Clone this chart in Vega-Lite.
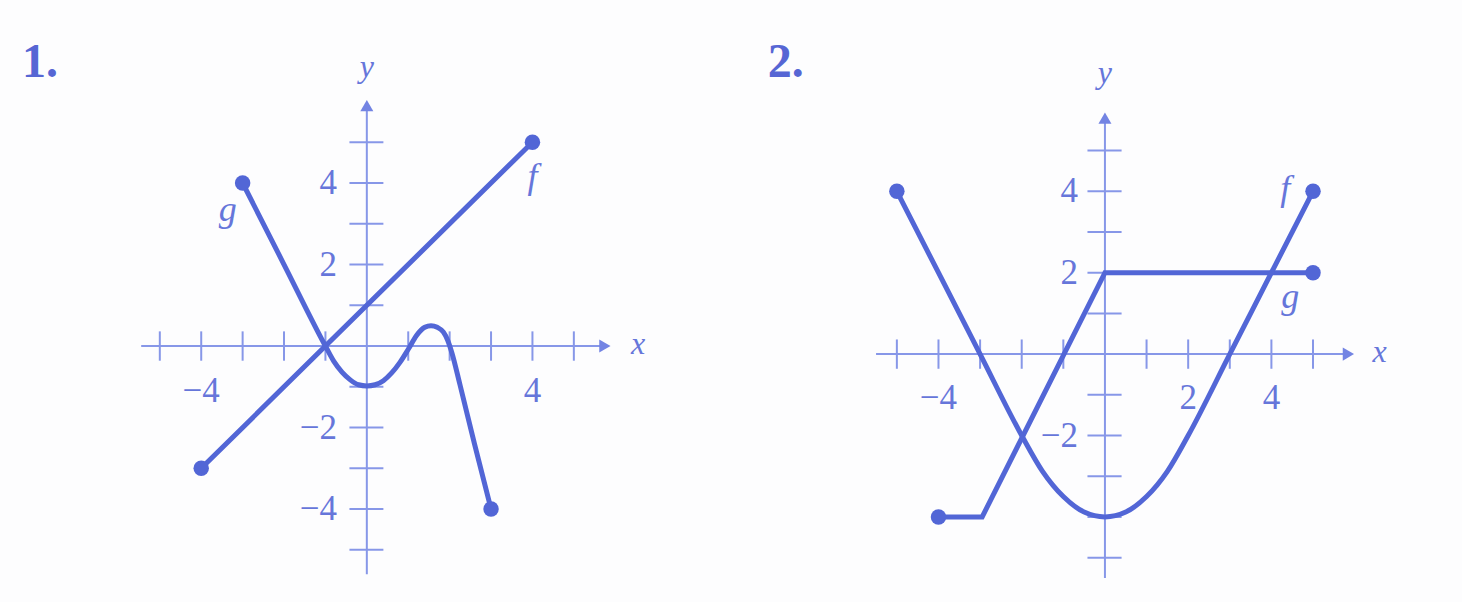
{
  "$schema": "https://vega.github.io/schema/vega-lite/v6.json",
  "background": "#fdfdfe",
  "padding": 0,
  "spacing": 0,
  "config": {"view": {"stroke": null}, "concat": {"spacing": 0}},
  "datasets": {
    "curves": [
      {"panel": 1, "fn": "f", "x": -4, "y": -3},
      {"panel": 1, "fn": "f", "x": 4, "y": 5},
      {"panel": 1, "fn": "g", "x": -3, "y": 4},
      {"panel": 1, "fn": "g", "x": -2, "y": 2},
      {"panel": 1, "fn": "g", "x": -1, "y": 0},
      {"panel": 1, "fn": "g", "x": -0.8, "y": -0.37},
      {"panel": 1, "fn": "g", "x": -0.6, "y": -0.64},
      {"panel": 1, "fn": "g", "x": -0.4, "y": -0.83},
      {"panel": 1, "fn": "g", "x": -0.2, "y": -0.95},
      {"panel": 1, "fn": "g", "x": 0, "y": -0.98},
      {"panel": 1, "fn": "g", "x": 0.2, "y": -0.95},
      {"panel": 1, "fn": "g", "x": 0.4, "y": -0.85},
      {"panel": 1, "fn": "g", "x": 0.6, "y": -0.66},
      {"panel": 1, "fn": "g", "x": 0.8, "y": -0.4},
      {"panel": 1, "fn": "g", "x": 1, "y": -0.08},
      {"panel": 1, "fn": "g", "x": 1.2, "y": 0.26},
      {"panel": 1, "fn": "g", "x": 1.4, "y": 0.46},
      {"panel": 1, "fn": "g", "x": 1.55, "y": 0.5},
      {"panel": 1, "fn": "g", "x": 1.7, "y": 0.46},
      {"panel": 1, "fn": "g", "x": 1.85, "y": 0.34},
      {"panel": 1, "fn": "g", "x": 1.95, "y": 0.15},
      {"panel": 1, "fn": "g", "x": 2.05, "y": -0.15},
      {"panel": 1, "fn": "g", "x": 2.25, "y": -0.95},
      {"panel": 1, "fn": "g", "x": 2.6, "y": -2.4},
      {"panel": 1, "fn": "g", "x": 3, "y": -4},
      {"panel": 2, "fn": "f", "x": -5, "y": 4},
      {"panel": 2, "fn": "f", "x": -4, "y": 2},
      {"panel": 2, "fn": "f", "x": -3, "y": 0},
      {"panel": 2, "fn": "f", "x": -2, "y": -2},
      {"panel": 2, "fn": "f", "x": -1.5, "y": -2.88},
      {"panel": 2, "fn": "f", "x": -1, "y": -3.5},
      {"panel": 2, "fn": "f", "x": -0.5, "y": -3.88},
      {"panel": 2, "fn": "f", "x": 0, "y": -4},
      {"panel": 2, "fn": "f", "x": 0.5, "y": -3.88},
      {"panel": 2, "fn": "f", "x": 1, "y": -3.5},
      {"panel": 2, "fn": "f", "x": 1.5, "y": -2.88},
      {"panel": 2, "fn": "f", "x": 2, "y": -2},
      {"panel": 2, "fn": "f", "x": 3, "y": 0},
      {"panel": 2, "fn": "f", "x": 4, "y": 2},
      {"panel": 2, "fn": "f", "x": 5, "y": 4},
      {"panel": 2, "fn": "g", "x": -4, "y": -4},
      {"panel": 2, "fn": "g", "x": -2.95, "y": -4},
      {"panel": 2, "fn": "g", "x": 0, "y": 2},
      {"panel": 2, "fn": "g", "x": 5, "y": 2}
    ],
    "dots": [
      {"panel": 1, "x": -4, "y": -3},
      {"panel": 1, "x": 4, "y": 5},
      {"panel": 1, "x": -3, "y": 4},
      {"panel": 1, "x": 3, "y": -4},
      {"panel": 2, "x": -5, "y": 4},
      {"panel": 2, "x": 5, "y": 4},
      {"panel": 2, "x": -4, "y": -4},
      {"panel": 2, "x": 5, "y": 2}
    ],
    "ticks": [
      {"v": -5}, {"v": -4}, {"v": -3}, {"v": -2}, {"v": -1},
      {"v": 1}, {"v": 2}, {"v": 3}, {"v": 4}, {"v": 5}
    ],
    "xlabels": [
      {"panel": 1, "v": -4, "label": "−4"},
      {"panel": 1, "v": 4, "label": "4"},
      {"panel": 2, "v": -4, "label": "−4"},
      {"panel": 2, "v": 2, "label": "2"},
      {"panel": 2, "v": 4, "label": "4"}
    ],
    "ylabels": [
      {"panel": 1, "v": 4, "label": "4"},
      {"panel": 1, "v": 2, "label": "2"},
      {"panel": 1, "v": -2, "label": "−2"},
      {"panel": 1, "v": -4, "label": "−4"},
      {"panel": 2, "v": 4, "label": "4"},
      {"panel": 2, "v": 2, "label": "2"},
      {"panel": 2, "v": -2, "label": "−2"}
    ],
    "fnlabels": [
      {"panel": 1, "name": "f", "x": 4.0, "y": 4.15},
      {"panel": 1, "name": "g", "x": -3.36, "y": 3.34},
      {"panel": 2, "name": "f", "x": 4.33, "y": 4.05},
      {"panel": 2, "name": "g", "x": 4.45, "y": 1.4}
    ]
  },
  "hconcat": [
    {
      "width": 720,
      "height": 602,
      "layer": [
        {
          "data": {"values": [{}]},
          "mark": {"type": "rule", "color": "#8797e8", "strokeWidth": 2},
          "encoding": {
            "x": {"datum": -5.45, "type": "quantitative", "scale": {"domain": [-8.86, 8.53], "nice": false, "zero": false}, "axis": null},
            "x2": {"datum": 5.7},
            "y": {"datum": 0, "type": "quantitative", "scale": {"domain": [-6.28, 8.49], "nice": false, "zero": false}, "axis": null}
          }
        },
        {
          "data": {"values": [{}]},
          "mark": {"type": "rule", "color": "#8797e8", "strokeWidth": 2},
          "encoding": {
            "x": {"datum": 0, "type": "quantitative"},
            "y": {"datum": -5.6, "type": "quantitative"},
            "y2": {"datum": 5.8}
          }
        },
        {
          "data": {"values": [{}]},
          "mark": {"type": "point", "shape": "triangle-right", "filled": true, "opacity": 1, "color": "#7384e3", "size": 170},
          "encoding": {"x": {"datum": 5.75, "type": "quantitative"}, "y": {"datum": 0, "type": "quantitative"}}
        },
        {
          "data": {"values": [{}]},
          "mark": {"type": "point", "shape": "triangle-up", "filled": true, "opacity": 1, "color": "#7384e3", "size": 170},
          "encoding": {"x": {"datum": 0, "type": "quantitative"}, "y": {"datum": 5.9, "type": "quantitative"}}
        },
        {
          "data": {"name": "ticks"},
          "mark": {"type": "rule", "color": "#8797e8", "strokeWidth": 2},
          "encoding": {
            "x": {"field": "v", "type": "quantitative"},
            "y": {"datum": -0.36, "type": "quantitative"},
            "y2": {"datum": 0.36}
          }
        },
        {
          "data": {"name": "ticks"},
          "mark": {"type": "rule", "color": "#8797e8", "strokeWidth": 2},
          "encoding": {
            "y": {"field": "v", "type": "quantitative"},
            "x": {"datum": -0.42, "type": "quantitative"},
            "x2": {"datum": 0.4}
          }
        },
        {
          "data": {"name": "xlabels"},
          "transform": [{"filter": "datum.panel == 1"}],
          "mark": {"type": "text", "font": "Liberation Serif", "fontSize": 35, "color": "#6676da", "baseline": "middle", "align": "center"},
          "encoding": {
            "x": {"field": "v", "type": "quantitative"},
            "y": {"datum": -1.1, "type": "quantitative"},
            "text": {"field": "label"}
          }
        },
        {
          "data": {"name": "ylabels"},
          "transform": [{"filter": "datum.panel == 1"}],
          "mark": {"type": "text", "font": "Liberation Serif", "fontSize": 35, "color": "#6676da", "baseline": "middle", "align": "right"},
          "encoding": {
            "y": {"field": "v", "type": "quantitative"},
            "x": {"datum": -0.72, "type": "quantitative"},
            "text": {"field": "label"}
          }
        },
        {
          "data": {"name": "curves"},
          "transform": [{"filter": "datum.panel == 1 && datum.fn == 'f'"}],
          "mark": {"type": "line", "color": "#5266d6", "strokeWidth": 5, "strokeCap": "round"},
          "encoding": {
            "x": {"field": "x", "type": "quantitative"},
            "y": {"field": "y", "type": "quantitative"}
          }
        },
        {
          "data": {"name": "curves"},
          "transform": [{"filter": "datum.panel == 1 && datum.fn == 'g'"}],
          "mark": {"type": "line", "color": "#5266d6", "strokeWidth": 5, "interpolate": "monotone", "strokeCap": "round"},
          "encoding": {
            "x": {"field": "x", "type": "quantitative"},
            "y": {"field": "y", "type": "quantitative"}
          }
        },
        {
          "data": {"name": "dots"},
          "transform": [{"filter": "datum.panel == 1"}],
          "mark": {"type": "point", "filled": true, "opacity": 1, "color": "#5266d6", "size": 240},
          "encoding": {
            "x": {"field": "x", "type": "quantitative"},
            "y": {"field": "y", "type": "quantitative"}
          }
        },
        {
          "data": {"name": "fnlabels"},
          "transform": [{"filter": "datum.panel == 1"}],
          "mark": {"type": "text", "font": "Liberation Serif", "fontStyle": "italic", "fontSize": 36, "color": "#6676da", "baseline": "middle", "align": "center"},
          "encoding": {
            "x": {"field": "x", "type": "quantitative"},
            "y": {"field": "y", "type": "quantitative"},
            "text": {"field": "name"}
          }
        },
        {
          "data": {"values": [{"t": "x"}]},
          "mark": {"type": "text", "font": "Liberation Serif", "fontStyle": "italic", "fontSize": 32, "color": "#6676da", "baseline": "middle", "align": "center"},
          "encoding": {"x": {"datum": 6.55, "type": "quantitative"}, "y": {"datum": 0.05, "type": "quantitative"}, "text": {"field": "t"}}
        },
        {
          "data": {"values": [{"t": "y"}]},
          "mark": {"type": "text", "font": "Liberation Serif", "fontStyle": "italic", "fontSize": 32, "color": "#6676da", "baseline": "middle", "align": "center"},
          "encoding": {"x": {"datum": 0, "type": "quantitative"}, "y": {"datum": 6.85, "type": "quantitative"}, "text": {"field": "t"}}
        },
        {
          "data": {"values": [{"t": "1."}]},
          "mark": {"type": "text", "font": "Liberation Serif", "fontWeight": "bold", "fontSize": 48, "color": "#5666d4", "baseline": "alphabetic", "align": "left"},
          "encoding": {"x": {"datum": -8.33, "type": "quantitative"}, "y": {"datum": 6.6, "type": "quantitative"}, "text": {"field": "t"}}
        }
      ]
    },
    {
      "width": 742,
      "height": 602,
      "layer": [
        {
          "data": {"values": [{}]},
          "mark": {"type": "rule", "color": "#8797e8", "strokeWidth": 2},
          "encoding": {
            "x": {"datum": -5.5, "type": "quantitative", "scale": {"domain": [-9.25, 8.58], "nice": false, "zero": false}, "axis": null},
            "x2": {"datum": 5.8},
            "y": {"datum": 0, "type": "quantitative", "scale": {"domain": [-6.09, 8.7], "nice": false, "zero": false}, "axis": null}
          }
        },
        {
          "data": {"values": [{}]},
          "mark": {"type": "rule", "color": "#8797e8", "strokeWidth": 2},
          "encoding": {
            "x": {"datum": 0, "type": "quantitative"},
            "y": {"datum": -5.5, "type": "quantitative"},
            "y2": {"datum": 5.7}
          }
        },
        {
          "data": {"values": [{}]},
          "mark": {"type": "point", "shape": "triangle-right", "filled": true, "opacity": 1, "color": "#7384e3", "size": 170},
          "encoding": {"x": {"datum": 5.85, "type": "quantitative"}, "y": {"datum": 0, "type": "quantitative"}}
        },
        {
          "data": {"values": [{}]},
          "mark": {"type": "point", "shape": "triangle-up", "filled": true, "opacity": 1, "color": "#7384e3", "size": 170},
          "encoding": {"x": {"datum": 0, "type": "quantitative"}, "y": {"datum": 5.8, "type": "quantitative"}}
        },
        {
          "data": {"name": "ticks"},
          "mark": {"type": "rule", "color": "#8797e8", "strokeWidth": 2},
          "encoding": {
            "x": {"field": "v", "type": "quantitative"},
            "y": {"datum": -0.36, "type": "quantitative"},
            "y2": {"datum": 0.36}
          }
        },
        {
          "data": {"name": "ticks"},
          "mark": {"type": "rule", "color": "#8797e8", "strokeWidth": 2},
          "encoding": {
            "y": {"field": "v", "type": "quantitative"},
            "x": {"datum": -0.42, "type": "quantitative"},
            "x2": {"datum": 0.4}
          }
        },
        {
          "data": {"name": "xlabels"},
          "transform": [{"filter": "datum.panel == 2"}],
          "mark": {"type": "text", "font": "Liberation Serif", "fontSize": 35, "color": "#6676da", "baseline": "middle", "align": "center"},
          "encoding": {
            "x": {"field": "v", "type": "quantitative"},
            "y": {"datum": -1.08, "type": "quantitative"},
            "text": {"field": "label"}
          }
        },
        {
          "data": {"name": "ylabels"},
          "transform": [{"filter": "datum.panel == 2"}],
          "mark": {"type": "text", "font": "Liberation Serif", "fontSize": 35, "color": "#6676da", "baseline": "middle", "align": "right"},
          "encoding": {
            "y": {"field": "v", "type": "quantitative"},
            "x": {"datum": -0.65, "type": "quantitative"},
            "text": {"field": "label"}
          }
        },
        {
          "data": {"name": "curves"},
          "transform": [{"filter": "datum.panel == 2 && datum.fn == 'g'"}],
          "mark": {"type": "line", "color": "#5266d6", "strokeWidth": 5, "strokeCap": "round"},
          "encoding": {
            "x": {"field": "x", "type": "quantitative"},
            "y": {"field": "y", "type": "quantitative"}
          }
        },
        {
          "data": {"name": "curves"},
          "transform": [{"filter": "datum.panel == 2 && datum.fn == 'f'"}],
          "mark": {"type": "line", "color": "#5266d6", "strokeWidth": 5, "interpolate": "monotone", "strokeCap": "round"},
          "encoding": {
            "x": {"field": "x", "type": "quantitative"},
            "y": {"field": "y", "type": "quantitative"}
          }
        },
        {
          "data": {"name": "dots"},
          "transform": [{"filter": "datum.panel == 2"}],
          "mark": {"type": "point", "filled": true, "opacity": 1, "color": "#5266d6", "size": 240},
          "encoding": {
            "x": {"field": "x", "type": "quantitative"},
            "y": {"field": "y", "type": "quantitative"}
          }
        },
        {
          "data": {"name": "fnlabels"},
          "transform": [{"filter": "datum.panel == 2"}],
          "mark": {"type": "text", "font": "Liberation Serif", "fontStyle": "italic", "fontSize": 36, "color": "#6676da", "baseline": "middle", "align": "center"},
          "encoding": {
            "x": {"field": "x", "type": "quantitative"},
            "y": {"field": "y", "type": "quantitative"},
            "text": {"field": "name"}
          }
        },
        {
          "data": {"values": [{"t": "x"}]},
          "mark": {"type": "text", "font": "Liberation Serif", "fontStyle": "italic", "fontSize": 32, "color": "#6676da", "baseline": "middle", "align": "center"},
          "encoding": {"x": {"datum": 6.6, "type": "quantitative"}, "y": {"datum": 0.05, "type": "quantitative"}, "text": {"field": "t"}}
        },
        {
          "data": {"values": [{"t": "y"}]},
          "mark": {"type": "text", "font": "Liberation Serif", "fontStyle": "italic", "fontSize": 32, "color": "#6676da", "baseline": "middle", "align": "center"},
          "encoding": {"x": {"datum": 0, "type": "quantitative"}, "y": {"datum": 6.9, "type": "quantitative"}, "text": {"field": "t"}}
        },
        {
          "data": {"values": [{"t": "2."}]},
          "mark": {"type": "text", "font": "Liberation Serif", "fontWeight": "bold", "fontSize": 48, "color": "#5666d4", "baseline": "alphabetic", "align": "left"},
          "encoding": {"x": {"datum": -8.1, "type": "quantitative"}, "y": {"datum": 6.8, "type": "quantitative"}, "text": {"field": "t"}}
        }
      ]
    }
  ]
}
